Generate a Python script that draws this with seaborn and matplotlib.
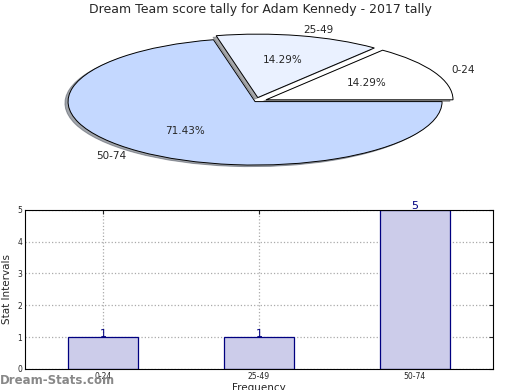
import matplotlib
matplotlib.use("Agg")
import matplotlib.pyplot as plt
import seaborn as sns
import pandas as pd

# data
bins = ["0-24", "25-49", "50-74"]
counts = [1, 1, 5]
pie_colors = ["#ffffff", "#eaf1ff", "#c4d8ff"]
explode = [0.065, 0.065, 0.0]

title = "Dream Team score tally for Adam Kennedy - 2017 tally"

sns.set_style("white")
plt.rcParams["font.family"] = ["DejaVu Sans"]

fig = plt.figure(figsize=(5.2, 3.9), dpi=100)

# ==========================
# Pie (squashed, not equal aspect)
# ==========================
ax_pie = fig.add_axes([0.023, 0.528, 0.935, 0.423])
wedges, texts, autotexts = ax_pie.pie(
    counts, labels=bins, colors=pie_colors, explode=explode,
    autopct="%.2f%%", startangle=0,
    shadow={"ox": -0.012, "oy": -0.018, "shade": 0.65},
    wedgeprops=dict(edgecolor="black", linewidth=0.7),
    textprops=dict(fontsize=7.5),
)
ax_pie.set_aspect("auto")
ax_pie.set_xlim(-1.3, 1.3)
ax_pie.set_ylim(-1.3, 1.3)
ax_pie.axis("off")

fig.text(0.5, 1 - 10 / 390, title, ha="center", va="center", fontsize=9)

# ==========================
# Bars
# ==========================
df = pd.DataFrame({"bin": bins, "count": counts})
ax_bar = fig.add_axes([0.048, 0.054, 0.9, 0.408])
sns.barplot(data=df, x="bin", y="count", ax=ax_bar, color="#ccccea",
            saturation=1, width=0.45, edgecolor="#000080", linewidth=0.9)
ax_bar.set_xlim(-0.5, 2.5)
ax_bar.set_ylim(0, 5)
ax_bar.set_yticks(range(0, 6))
ax_bar.grid(True, linestyle=":", color="#aaaaaa", linewidth=0.9)
ax_bar.set_axisbelow(True)
for s in ax_bar.spines.values():
    s.set_color("black")
    s.set_linewidth(0.8)
ax_bar.tick_params(axis="both", labelsize=5.5, direction="in", length=3, pad=2,
                   right=True, top=True)
ax_bar.set_xlabel("Frequency", fontsize=7.5, labelpad=2)
ax_bar.set_ylabel("Stat Intervals", fontsize=7.5, labelpad=4)

for i, v in enumerate(counts):
    ax_bar.text(i, v - 0.05, str(v), ha="center", va="bottom",
                fontsize=8, color="#000080")

fig.text(0.0, 1 - 380 / 390, "Dream-Stats.com", ha="left", va="center",
         fontsize=8.5, color="#888888", fontweight="bold", zorder=10)

fig.savefig("out.png", dpi=100)
